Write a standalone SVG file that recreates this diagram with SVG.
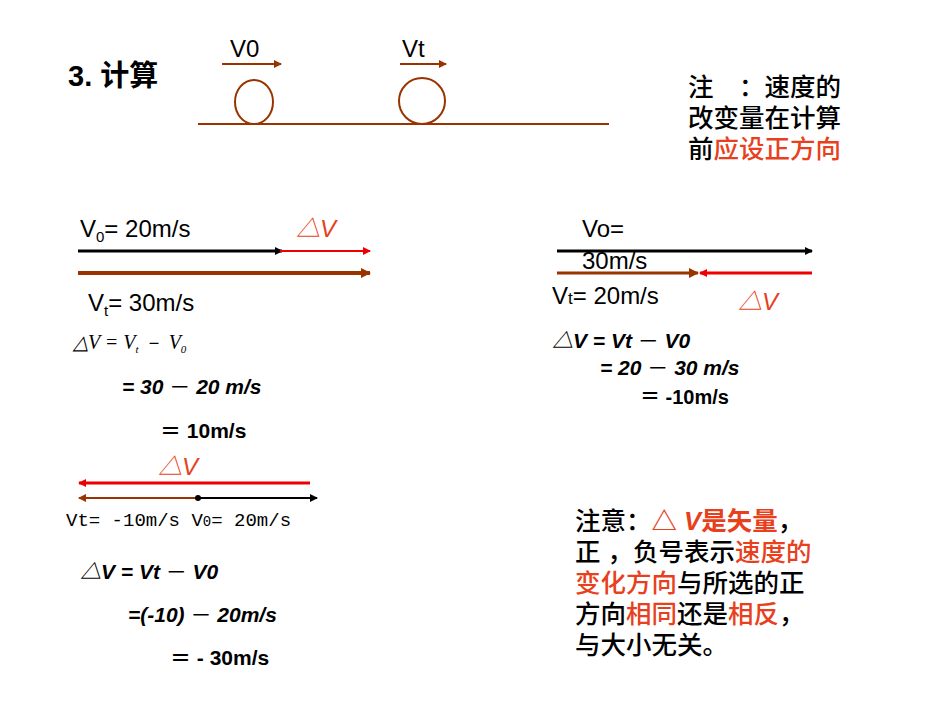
<svg xmlns="http://www.w3.org/2000/svg" width="950" height="713" viewBox="0 0 950 713">
<defs>
<marker id="ab" markerWidth="8" markerHeight="8" refX="7" refY="4" orient="auto" markerUnits="userSpaceOnUse"><path d="M0,0L8,4L0,8z" fill="#000"/></marker>
<marker id="ar" markerWidth="8" markerHeight="8" refX="7" refY="4" orient="auto" markerUnits="userSpaceOnUse"><path d="M0,0L8,4L0,8z" fill="#e00"/></marker>
<marker id="an" markerWidth="10" markerHeight="10" refX="9" refY="5" orient="auto" markerUnits="userSpaceOnUse"><path d="M0,0L10,5L0,10z" fill="#993300"/></marker>
<marker id="an2" markerWidth="8" markerHeight="8" refX="7" refY="4" orient="auto" markerUnits="userSpaceOnUse"><path d="M0,0L8,4L0,8z" fill="#993300"/></marker>
</defs>
<style>
text{font-family:"Liberation Sans","Noto Sans CJK SC",sans-serif;fill:#000}
.s{font-size:24px}
.bi{font-size:21px;font-weight:bold;font-style:italic}
.r{fill:#e8401c}
.cn{font-size:25.5px;font-weight:500}
.m{font-family:"Liberation Mono","DejaVu Sans Mono",monospace;font-size:19px}
</style>
<rect width="950" height="713" fill="#fff"/>
<g id="title"><text x="68" y="86" style="font-size:29px;font-weight:bold">3. 计算</text></g>
<g id="scene">
<line x1="198" y1="124" x2="609" y2="124" stroke="#993300" stroke-width="2"/>
<ellipse cx="254" cy="102" rx="19" ry="22" fill="none" stroke="#993300" stroke-width="2"/>
<ellipse cx="422" cy="101" rx="23" ry="23" fill="none" stroke="#993300" stroke-width="2"/>
<text x="230" y="57" class="s">V0</text><text x="402" y="57" class="s">Vt</text>
</g>
<g id="connectors">
<line x1="222" y1="64" x2="281" y2="64" stroke="#993300" stroke-width="2" marker-end="url(#an2)"/>
<line x1="400" y1="64" x2="446" y2="64" stroke="#993300" stroke-width="2" marker-end="url(#an2)"/>
<line x1="78" y1="251" x2="282" y2="251" stroke="#000" stroke-width="3" marker-end="url(#ab)"/>
<line x1="280" y1="251" x2="370" y2="251" stroke="#e00" stroke-width="2" marker-end="url(#ar)"/>
<line x1="78" y1="273" x2="370" y2="273" stroke="#993300" stroke-width="4" marker-end="url(#an)"/>
<line x1="557" y1="251" x2="812" y2="251" stroke="#000" stroke-width="3" marker-end="url(#ab)"/>
<line x1="557" y1="273" x2="698" y2="273" stroke="#993300" stroke-width="3" marker-end="url(#an)"/>
<line x1="812" y1="273" x2="700" y2="273" stroke="#e00" stroke-width="3" marker-end="url(#ar)"/>
<line x1="310" y1="483" x2="79" y2="483" stroke="#e00" stroke-width="3" marker-end="url(#ar)"/>
<line x1="198" y1="498" x2="79" y2="498" stroke="#993300" stroke-width="2" marker-end="url(#an2)"/>
<line x1="198" y1="498" x2="317" y2="498" stroke="#000" stroke-width="2" marker-end="url(#ab)"/>
<circle cx="198" cy="498" r="3" fill="#000"/>
</g>
<g id="note1" class="cn">
<text x="688" y="96">注　：速度的</text>
<text x="688" y="127">改变量在计算</text>
<text x="688" y="158">前<tspan class="r">应设正方向</tspan></text>
</g>
<g id="case1">
<text x="80" y="237" class="s">V<tspan font-size="15" dy="5">0</tspan><tspan dy="-5">= 20m/s</tspan></text>
<text x="296" y="237" class="s r" style="font-style:italic">△V</text>
<text x="88" y="311" class="s">V<tspan font-size="15" dy="5">t</tspan><tspan dy="-5">= 30m/s</tspan></text>
<text x="73" y="349" style="font-family:'Liberation Serif',serif;font-size:20px;font-style:italic">△V = V<tspan font-size="11" dy="4">t</tspan><tspan dy="-4" font-style="normal">  －  </tspan>V<tspan font-size="11" dy="4">0</tspan></text>
<text x="122" y="394" class="bi">= 30 <tspan font-style="normal" font-weight="normal">－</tspan>  20 m/s</text>
<text x="160" y="438" style="font-size:21px;font-weight:bold">＝ 10m/s</text>
</g>
<g id="case2">
<text x="582" y="237" class="s">Vo=</text>
<text x="582" y="269" class="s">30m/s</text>
<text x="552" y="304" class="s">V<tspan font-size="17">t</tspan>= 20m/s</text>
<text x="738" y="310" class="s r" style="font-style:italic">△V</text>
<text x="552" y="348" class="bi">△V = Vt  <tspan font-style="normal" font-weight="normal">－</tspan>   V0</text>
<text x="600" y="375" class="bi">= 20 <tspan font-style="normal" font-weight="normal">－</tspan>  30 m/s</text>
<text x="640" y="404" style="font-size:20px;font-weight:bold">＝  -10m/s</text>
</g>
<g id="case3">
<text x="158" y="475" class="s r" style="font-style:italic">△V</text>
<text x="66" y="526" class="m">Vt= -10m/s  V<tspan font-size="14">0</tspan>= 20m/s</text>
<text x="80" y="579" class="bi">△V = Vt  <tspan font-style="normal" font-weight="normal">－</tspan>   V0</text>
<text x="128" y="622" class="bi">=(-10) <tspan font-style="normal" font-weight="normal">－</tspan>  20m/s</text>
<text x="170" y="665" style="font-size:21px;font-weight:bold">＝  - 30m/s</text>
</g>
<g id="note2" class="cn">
<text x="575" y="530">注意：<tspan class="r" font-weight="bold">△ <tspan font-style="italic">V</tspan>是矢量</tspan>，</text>
<text x="575" y="561">正 ，负号表示<tspan class="r">速度的</tspan></text>
<text x="575" y="592"><tspan class="r">变化方向</tspan>与所选的正</text>
<text x="575" y="623">方向<tspan class="r">相同</tspan>还是<tspan class="r">相反</tspan>，</text>
<text x="575" y="654">与大小无关。</text>
</g>
</svg>
